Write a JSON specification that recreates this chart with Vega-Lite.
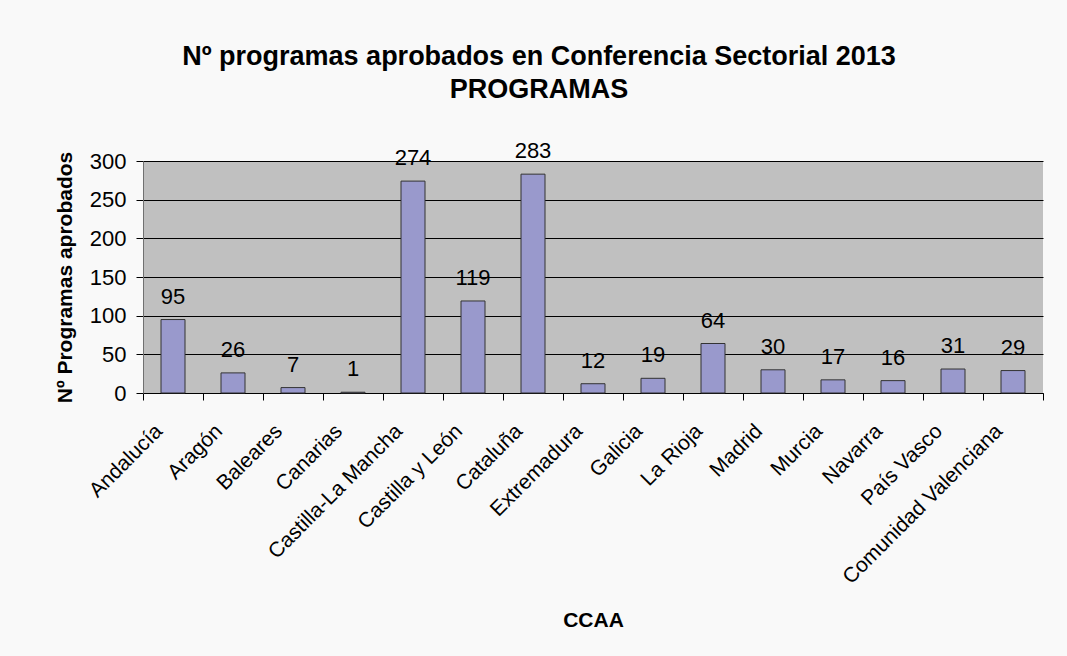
{
  "$schema": "https://vega.github.io/schema/vega-lite/v6.json",
  "width": 900,
  "height": 232,
  "autosize": {"type": "none"},
  "padding": {"left": 143, "top": 161, "right": 24, "bottom": 263},
  "background": "#F9F9F9",
  "title": {
    "text": ["Nº programas aprobados en Conferencia Sectorial 2013", "PROGRAMAS"],
    "font": "Liberation Sans",
    "fontSize": 27,
    "fontWeight": "bold",
    "color": "#000000",
    "anchor": "middle",
    "dx": -54,
    "lineHeight": 33,
    "offset": 36
  },
  "data": {
    "values": [
      {"CCAA": "Andalucía", "n": 95},
      {"CCAA": "Aragón", "n": 26},
      {"CCAA": "Baleares", "n": 7},
      {"CCAA": "Canarias", "n": 1},
      {"CCAA": "Castilla-La Mancha", "n": 274},
      {"CCAA": "Castilla y León", "n": 119},
      {"CCAA": "Cataluña", "n": 283},
      {"CCAA": "Extremadura", "n": 12},
      {"CCAA": "Galicia", "n": 19},
      {"CCAA": "La Rioja", "n": 64},
      {"CCAA": "Madrid", "n": 30},
      {"CCAA": "Murcia", "n": 17},
      {"CCAA": "Navarra", "n": 16},
      {"CCAA": "País Vasco", "n": 31},
      {"CCAA": "Comunidad Valenciana", "n": 29}
    ]
  },
  "encoding": {
    "x": {
      "field": "CCAA",
      "type": "nominal",
      "sort": null,
      "scale": {"paddingInner": 0, "paddingOuter": 0},
      "axis": {
        "title": "CCAA",
        "labelAngle": -45,
        "labelFont": "Liberation Sans",
        "labelFontSize": 21,
        "labelColor": "#000000",
        "labelPadding": 20,
        "labelOffset": -22,
        "labelLimit": 0,
        "tickBand": "extent",
        "tickSize": 7,
        "tickColor": "#000000",
        "domainColor": "#000000",
        "titleFont": "Liberation Sans",
        "titleFontSize": 21,
        "titleFontWeight": "bold",
        "titleColor": "#000000",
        "titlePadding": 22,
        "grid": false
      }
    },
    "y": {
      "field": "n",
      "type": "quantitative",
      "scale": {"domain": [0, 300], "nice": false},
      "axis": {
        "title": "Nº Programas aprobados",
        "values": [0, 50, 100, 150, 200, 250, 300],
        "labelFont": "Liberation Sans",
        "labelFontSize": 22,
        "labelColor": "#000000",
        "labelPadding": 10,
        "tickSize": 7,
        "tickColor": "#000000",
        "domainColor": "#707070",
        "grid": true,
        "gridColor": "#000000",
        "gridOpacity": 1,
        "gridWidth": 1,
        "titleFont": "Liberation Sans",
        "titleFontSize": 21,
        "titleFontWeight": "bold",
        "titleColor": "#000000",
        "titlePadding": 14
      }
    }
  },
  "layer": [
    {
      "mark": {"type": "bar", "width": {"band": 0.4}, "fill": "#9999CC", "stroke": "#333333", "strokeWidth": 1}
    },
    {
      "mark": {"type": "text", "font": "Liberation Sans", "fontSize": 22, "baseline": "alphabetic", "dy": -16, "color": "#000000"},
      "encoding": {"text": {"field": "n", "type": "quantitative"}}
    }
  ],
  "config": {
    "view": {"fill": "#C0C0C0", "stroke": null}
  }
}
